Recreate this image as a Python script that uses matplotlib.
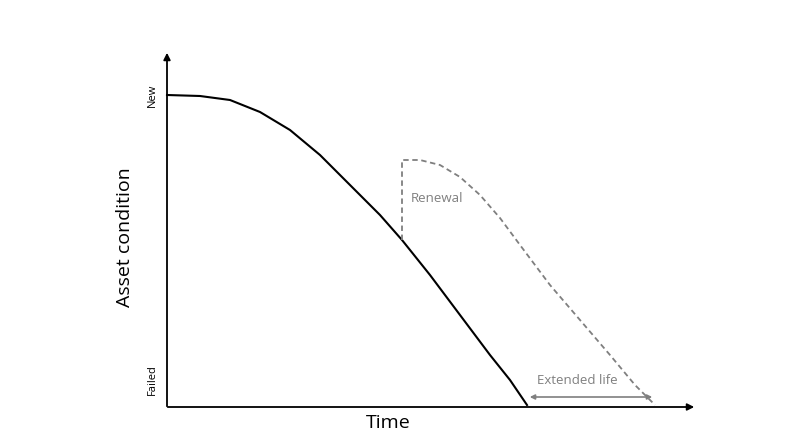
import matplotlib
matplotlib.use("Agg")
import matplotlib.pyplot as plt
import numpy as np

# time (x) and condition (y)
base_t = [0, 33, 63, 93, 123, 153, 183, 213, 235, 263, 293, 323, 343, 360]
base_c = [312, 311, 307, 295, 277, 252, 222, 192, 167, 132, 92, 52, 27, 2]
renew_t = [235, 235, 253, 273, 293, 313, 333, 353, 383, 413, 443, 468, 488]
renew_c = [167, 247, 247, 242, 230, 212, 189, 162, 122, 87, 52, 22, 2]
ext_start, ext_end = 360, 488

fig = plt.figure(figsize=(8.01, 4.42), dpi=100)
ax = fig.add_axes([0, 0, 1, 1])
ax.set_xlim(-167, 634)
ax.set_ylim(-35, 407)
ax.axis("off")

# axes arrows
ax.annotate("", xy=(0, 357), xytext=(0, -2),
            arrowprops=dict(arrowstyle="-|>", color="black", lw=1.3, mutation_scale=10))
ax.annotate("", xy=(530, 0), xytext=(-2, 0),
            arrowprops=dict(arrowstyle="-|>", color="black", lw=1.3, mutation_scale=10))

ax.plot(base_t, base_c, color="black", lw=1.5)
ax.plot(renew_t, renew_c, color="#7f7f7f", lw=1.3, ls=(0, (3, 2)))
ax.annotate("", xy=(ext_end, 10), xytext=(ext_start, 10),
            arrowprops=dict(arrowstyle="<|-|>", color="#7f7f7f", lw=1.2, mutation_scale=7))

ax.text(270, 209, "Renewal", color="#7f7f7f", fontsize=9.5, ha="center", va="center",
        family="Open Sans")
ax.text(410, 26, "Extended life", color="#7f7f7f", fontsize=9.5, ha="center", va="center",
        family="Open Sans")
ax.text(-15, 312, "New", rotation=90, fontsize=8, ha="center", va="center", family="Open Sans")
ax.text(-15, 27, "Failed", rotation=90, fontsize=8, ha="center", va="center", family="Open Sans")
ax.text(-42, 170, "Asset condition", rotation=90, fontsize=14, ha="center", va="center",
        family="Open Sans")
ax.text(221, -16, "Time", fontsize=14, ha="center", va="center", family="Open Sans")

fig.savefig("out.png", dpi=100)
